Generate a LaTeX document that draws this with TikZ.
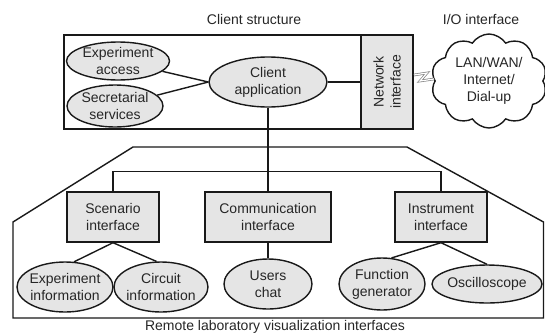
\documentclass[tikz,border=0pt]{standalone}
\usepackage{fontspec}
\setmainfont{Liberation Sans}
\usetikzlibrary{shapes.geometric,shapes.symbols}
\begin{document}
\begin{tikzpicture}[x=1pt,y=-1pt,line width=1.4pt,
  every node/.style={font=\fontsize{14}{17}\selectfont, align=center, text=black!85},
  ell/.style={ellipse, draw=black!90, fill=black!10, inner sep=0pt},
  boxnode/.style={rectangle, draw=black!90, fill=black!10, inner sep=0pt},
  link/.style={draw=black!90, line width=1.4pt}]
\useasboundingbox (0,0) rectangle (545,335);

% titles
\node (t1) at (254,19) {Client structure};
\node (t2) at (481,19) {I/O interface};
\node (t3) at (275,327) {Remote laboratory visualization interfaces};

% client structure frame
\draw[black!90] (64,35) rectangle (413,129);
\node[boxnode, minimum width=52, minimum height=94] (net) at (387,82) {};
\node[rotate=90] (netl) at (net.center) {Network\\interface};

\node[ell, minimum width=103, minimum height=38, label=center:{Experiment\\access}] (ea) at (118,61) {};
\node[ell, minimum width=96, minimum height=42, label=center:{Secretarial\\services}] (ss) at (115,106) {};
\node[ell, minimum width=118, minimum height=50, label=center:{Client\\application}] (ca) at (268,82) {};

\draw[link] (ea) -- (ca.west);
\draw[link] (ss) -- (ca.west);
\draw[link] (ca.east) -- (net.west);

% cloud
\node[cloud, draw=black!90, fill=white, cloud puffs=10, cloud puff arc=115,
      cloud ignores aspect, minimum width=116, minimum height=94, inner sep=0pt,
      label=center:{LAN/WAN/\\Internet/\\Dial-up}] (lan) at (489,81) {};
\draw[black!50, line width=0.7pt, double=white, double distance=1.2pt]
  (414,75) -- (427,73) -- (420,81) -- (434,79);

% lower frame
\draw[black!90] (133,147) -- (407,147) -- (543.5,222) -- (543.5,318) -- (13,318) -- (13,222) -- cycle;

\node[boxnode, minimum width=92, minimum height=50] (scen) at (113,217) {Scenario\\interface};
\node[boxnode, minimum width=126, minimum height=50] (comm) at (268,217) {Communication\\interface};
\node[boxnode, minimum width=92, minimum height=50] (inst) at (441,217) {Instrument\\interface};

\draw[link] (ca.south) -- (comm.north);
\draw[link] (scen.north) -- ++(0,-20) -| (inst.north);

\node[ell, minimum width=96, minimum height=50, label=center:{Experiment\\information}] (ei) at (65,287) {};
\node[ell, minimum width=94, minimum height=50, label=center:{Circuit\\information}] (ci) at (161,287) {};
\node[ell, minimum width=88, minimum height=50, label=center:{Users\\chat}] (uc) at (268,284) {};
\node[ell, minimum width=86, minimum height=52, label=center:{Function\\generator}] (fg) at (382,284) {};
\node[ell, minimum width=110, minimum height=38, label=center:{Oscilloscope}] (osc) at (487,284) {};

\draw[link] (scen.south) -- (ei.70);
\draw[link] (scen.south) -- (ci.100);
\draw[link] (comm.south) -- (uc.north);
\draw[link] (inst.south) -- (fg.70);
\draw[link] (inst.south) -- (osc.north);
\end{tikzpicture}
\end{document}
